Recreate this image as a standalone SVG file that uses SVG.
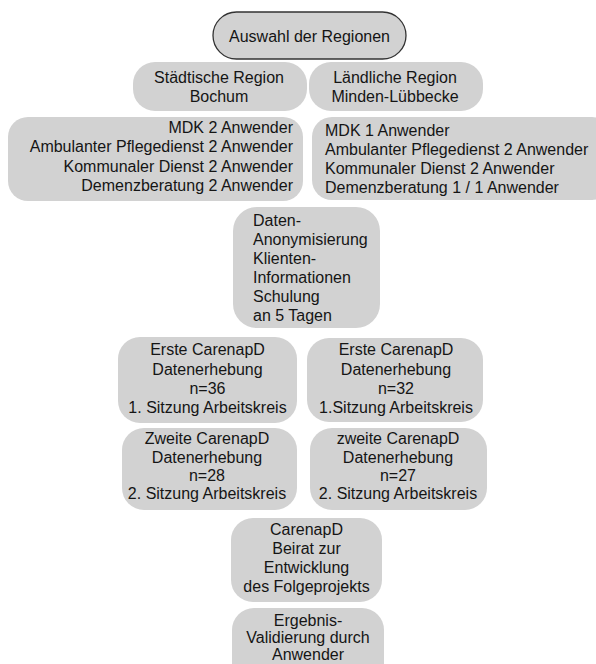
<svg xmlns="http://www.w3.org/2000/svg" width="596" height="664" viewBox="0 0 596 664">
<style>
.box{fill:#d2d2d2;}
.top{fill:#d2d2d2;stroke:#333;stroke-width:1.3;}
text{font-family:"Liberation Sans",Arial,sans-serif;font-size:16px;fill:#151515;}
.c{text-anchor:middle;}
.r{text-anchor:end;}
</style>
<rect width="596" height="664" fill="#fff"/>
<g id="auswahl">
<rect class="top" x="213" y="12" width="193" height="47" rx="23.5"/>
<text class="c" x="309.5" y="42">Auswahl der Regionen</text>
</g>
<g id="bochum">
<rect class="box" x="133" y="62" width="174" height="49" rx="22"/>
<text class="c" x="219" y="83">Städtische Region</text>
<text class="c" x="219" y="102">Bochum</text>
</g>
<g id="minden">
<rect class="box" x="309" y="62" width="174" height="49" rx="22"/>
<text class="c" x="395" y="83">Ländliche Region</text>
<text class="c" x="395" y="102">Minden-Lübbecke</text>
</g>
<g id="anwender-bochum">
<rect class="box" x="8" y="117" width="295" height="84" rx="20"/>
<text class="r" x="293" y="133">MDK 2 Anwender</text>
<text class="r" x="293" y="152">Ambulanter Pflegedienst 2 Anwender</text>
<text class="r" x="293" y="172">Kommunaler Dienst 2 Anwender</text>
<text class="r" x="293" y="191">Demenzberatung 2 Anwender</text>
</g>
<g id="anwender-minden">
<rect class="box" x="312" y="117" width="300" height="83" rx="20"/>
<text x="325" y="136">MDK 1 Anwender</text>
<text x="325" y="155">Ambulanter Pflegedienst 2 Anwender</text>
<text x="325" y="174">Kommunaler Dienst 2 Anwender</text>
<text x="325" y="193">Demenzberatung 1 / 1 Anwender</text>
</g>
<g id="schulung">
<rect class="box" x="233" y="207" width="147" height="121" rx="24"/>
<text x="253" y="226">Daten-</text>
<text x="253" y="245">Anonymisierung</text>
<text x="253" y="264">Klienten-</text>
<text x="253" y="283">Informationen</text>
<text x="253" y="302">Schulung</text>
<text x="253" y="321">an 5 Tagen</text>
</g>
<g id="erste-bochum">
<rect class="box" x="118" y="337" width="179" height="86" rx="22"/>
<text class="c" x="207.5" y="355">Erste CarenapD</text>
<text class="c" x="207.5" y="375">Datenerhebung</text>
<text class="c" x="207.5" y="394">n=36</text>
<text class="c" x="207.5" y="413">1. Sitzung Arbeitskreis</text>
</g>
<g id="erste-minden">
<rect class="box" x="307" y="338" width="176" height="84" rx="22"/>
<text class="c" x="396" y="355">Erste CarenapD</text>
<text class="c" x="396" y="375">Datenerhebung</text>
<text class="c" x="396" y="394">n=32</text>
<text class="c" x="396" y="413">1.Sitzung Arbeitskreis</text>
</g>
<g id="zweite-bochum">
<rect class="box" x="122" y="428" width="175" height="82" rx="22"/>
<text class="c" x="207" y="444">Zweite CarenapD</text>
<text class="c" x="207" y="463">Datenerhebung</text>
<text class="c" x="207" y="481">n=28</text>
<text class="c" x="207" y="499">2. Sitzung Arbeitskreis</text>
</g>
<g id="zweite-minden">
<rect class="box" x="310" y="428" width="177" height="82" rx="22"/>
<text class="c" x="398" y="444">zweite CarenapD</text>
<text class="c" x="398" y="463">Datenerhebung</text>
<text class="c" x="398" y="481">n=27</text>
<text class="c" x="398" y="499">2. Sitzung Arbeitskreis</text>
</g>
<g id="beirat">
<rect class="box" x="231" y="518" width="151" height="84" rx="22"/>
<text class="c" x="306.5" y="535">CarenapD</text>
<text class="c" x="306.5" y="554">Beirat zur</text>
<text class="c" x="306.5" y="573">Entwicklung</text>
<text class="c" x="306.5" y="592">des Folgeprojekts</text>
</g>
<g id="validierung">
<rect class="box" x="232" y="608" width="152" height="80" rx="22"/>
<text class="c" x="308" y="626">Ergebnis-</text>
<text class="c" x="308" y="643">Validierung durch</text>
<text class="c" x="308" y="660">Anwender</text>
</g>
<g id="connectors"></g>
</svg>
